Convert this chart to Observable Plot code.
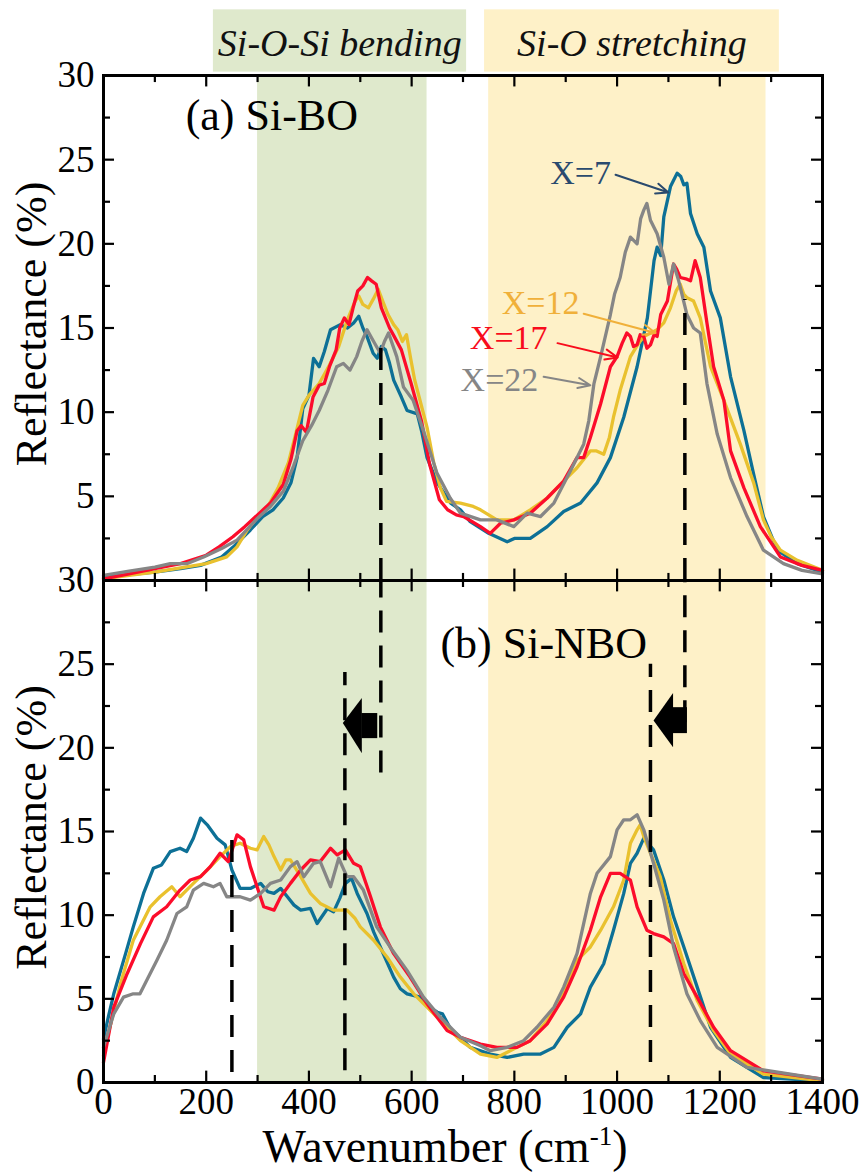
<!DOCTYPE html>
<html><head><meta charset="utf-8">
<script src="https://cdn.jsdelivr.net/npm/d3@7"></script>
<script src="https://cdn.jsdelivr.net/npm/@observablehq/plot@0.6"></script>
<style>
body{margin:0;background:#fff;}
#chart{position:relative;width:864px;height:1172px;background:#fff;}
#chart svg{position:absolute;left:0;overflow:visible;background:transparent !important;font-family:"Liberation Serif",serif !important;}
#chart svg text{font-family:"Liberation Serif",serif !important;}
</style></head><body><div id="chart"></div>
<script>
// ---------- data (wavenumber cm^-1, reflectance %) ----------
const seriesNames = ["X=7", "X=12", "X=17", "X=22"];
const seriesColors = ["#0d7096", "#e9c12e", "#fc0c2b", "#868686"];
const labelColors = ["#2a4a6e", "#f0b03a", "#f80c1c", "#868686"];

// panel (a) Si-BO
const a7 = [[0,0.2],[50,0.35],[100,0.5],[150,0.7],[189,0.9],[230,1.4],[253,2.0],[286,3.0],[310,3.8],[330,4.2],[350,4.9],[365,5.8],[377,7.3],[388,10.2],[400,11.0],[409,13.2],[420,12.7],[430,13.6],[442,14.9],[461,15.2],[475,15.0],[487,15.3],[497,15.7],[505,15.0],[513,14.5],[525,13.5],[533,13.2],[541,13.9],[549,13.7],[557,12.9],[565,11.9],[580,10.9],[591,10.1],[611,9.9],[620,8.8],[630,7.3],[650,5.8],[676,4.6],[695,4.2],[714,3.5],[750,2.8],[786,2.3],[800,2.5],[831,2.5],[864,3.2],[896,4.1],[929,4.6],[961,5.8],[987,7.3],[1013,9.7],[1039,12.7],[1059,15.6],[1072,19.0],[1078,19.8],[1085,19.3],[1091,21.6],[1104,23.4],[1117,24.2],[1124,24.0],[1130,23.5],[1136,23.6],[1143,21.8],[1156,20.6],[1169,19.8],[1182,17.2],[1201,15.6],[1221,12.1],[1247,8.9],[1266,6.3],[1285,3.8],[1312,1.8],[1351,1.0],[1400,0.5]];
const a12 = [[0,0.1],[50,0.3],[100,0.5],[150,0.75],[200,1.0],[240,1.4],[260,2.0],[280,3.0],[300,3.8],[320,4.4],[340,5.5],[360,7.0],[375,8.8],[388,10.4],[400,11.0],[420,11.7],[440,12.8],[458,13.9],[475,15.5],[490,16.6],[497,16.9],[505,16.4],[516,16.2],[525,16.7],[535,17.3],[545,16.5],[554,15.8],[565,15.2],[573,14.9],[582,14.2],[590,14.6],[598,13.2],[606,11.9],[618,10.5],[630,9.1],[643,7.0],[656,5.5],[668,4.7],[695,4.6],[720,4.4],[734,4.2],[750,3.9],[766,3.6],[799,3.6],[831,4.2],[864,4.9],[896,5.9],[922,6.7],[948,7.7],[960,7.7],[974,7.5],[985,8.5],[993,9.7],[1006,11.3],[1026,13.3],[1040,14.0],[1052,14.5],[1078,14.9],[1091,15.3],[1104,16.2],[1115,17.2],[1123,17.6],[1130,17.0],[1136,16.8],[1149,16.6],[1162,15.6],[1182,12.7],[1208,10.7],[1240,8.1],[1266,5.8],[1285,3.6],[1300,2.6],[1318,1.8],[1351,1.2],[1400,0.6]];
const a17 = [[0,0.1],[50,0.4],[100,0.7],[150,1.0],[200,1.5],[225,2.0],[252,2.6],[275,3.2],[300,3.9],[325,4.6],[350,5.7],[365,7.2],[377,8.9],[385,9.2],[395,8.8],[408,10.9],[420,11.6],[430,11.7],[440,12.7],[453,13.7],[460,15.0],[469,15.6],[478,15.2],[486,16.2],[495,17.2],[505,17.5],[514,18.0],[522,17.8],[531,17.6],[541,16.2],[557,15.0],[566,14.5],[580,13.7],[599,11.7],[619,9.5],[635,6.9],[654,4.8],[670,4.2],[687,3.9],[701,3.8],[734,3.2],[753,2.8],[773,3.4],[799,3.6],[831,4.0],[864,4.9],[896,5.9],[922,7.3],[935,7.3],[948,8.5],[968,10.5],[987,12.7],[1000,13.3],[1010,14.1],[1019,14.7],[1026,14.5],[1032,13.9],[1039,14.0],[1045,14.6],[1052,14.5],[1058,13.8],[1065,14.0],[1072,14.6],[1078,14.5],[1085,15.8],[1098,16.6],[1110,18.8],[1116,18.5],[1123,18.0],[1136,17.9],[1143,17.8],[1152,19.0],[1162,18.0],[1175,15.3],[1188,12.7],[1208,10.7],[1221,7.7],[1247,5.5],[1279,3.2],[1318,1.4],[1360,0.9],[1400,0.6]];
const a22 = [[0,0.3],[50,0.55],[100,0.8],[130,1.0],[162,1.0],[195,1.4],[230,1.9],[260,2.4],[300,3.7],[325,4.4],[350,5.3],[370,6.8],[388,8.3],[405,9.2],[420,10.1],[437,11.3],[454,12.7],[467,12.9],[480,12.5],[493,13.3],[503,14.2],[513,14.9],[526,14.2],[539,13.5],[547,14.2],[555,14.7],[563,14.0],[571,13.3],[584,11.5],[603,10.7],[623,8.9],[649,6.4],[675,4.9],[695,4.0],[734,3.6],[766,3.6],[799,3.2],[825,4.0],[851,3.8],[877,4.6],[909,6.5],[935,8.1],[945,9.5],[955,11.7],[968,13.3],[987,15.8],[995,17.0],[1006,18.0],[1016,19.5],[1026,20.4],[1039,20.0],[1046,21.5],[1052,22.0],[1058,22.4],[1065,21.4],[1078,20.6],[1091,19.2],[1101,17.6],[1110,18.8],[1120,17.8],[1136,15.8],[1149,15.0],[1162,14.7],[1175,11.7],[1195,8.7],[1221,6.1],[1253,3.8],[1285,1.8],[1324,1.0],[1360,0.6],[1400,0.4]];

// panel (b) Si-NBO
const b7 = [[0,2.6],[10,4.0],[20,5.3],[43,7.7],[58,9.3],[78,11.3],[97,12.8],[113,13.0],[130,13.8],[149,14.0],[162,13.8],[175,14.6],[189,15.8],[202,15.4],[221,14.6],[237,14.2],[250,12.7],[266,11.6],[286,11.6],[306,11.9],[320,11.4],[332,11.3],[345,11.6],[358,11.1],[371,10.6],[384,10.3],[403,10.4],[416,9.5],[436,10.4],[448,10.2],[460,11.0],[471,11.9],[483,12.2],[494,11.3],[513,10.1],[526,9.0],[539,8.1],[552,7.2],[565,6.3],[578,5.6],[591,5.3],[617,5.1],[630,4.6],[650,4.2],[660,4.1],[676,3.2],[695,2.7],[714,2.1],[753,1.7],[786,1.5],[818,1.7],[851,1.7],[877,2.1],[903,3.3],[929,4.1],[948,5.7],[974,7.1],[993,9.1],[1013,11.3],[1026,13.1],[1039,13.7],[1052,14.6],[1060,14.3],[1071,13.9],[1091,12.1],[1110,9.9],[1130,8.1],[1156,5.7],[1182,3.3],[1221,1.5],[1285,0.3],[1400,0.1]];
const b12 = [[0,1.6],[10,3.0],[33,5.9],[58,8.5],[91,10.5],[110,11.1],[133,11.7],[149,11.1],[175,11.9],[202,12.7],[227,13.5],[247,14.1],[266,14.3],[286,14.0],[299,13.9],[312,14.7],[322,14.2],[332,13.5],[345,12.7],[355,13.3],[364,13.3],[384,12.3],[403,11.3],[422,10.7],[448,10.3],[474,10.3],[490,9.8],[500,9.3],[526,8.5],[552,7.5],[578,6.3],[604,5.3],[630,4.5],[656,3.7],[695,2.5],[734,1.7],[766,1.5],[805,2.1],[831,2.5],[864,3.7],[896,5.3],[922,7.3],[948,8.1],[968,9.1],[993,10.5],[1013,12.1],[1026,14.3],[1039,15.1],[1045,15.4],[1052,14.7],[1065,13.7],[1084,12.3],[1104,9.7],[1130,7.1],[1156,4.9],[1188,3.1],[1221,1.7],[1285,0.5],[1400,0.1]];
const b17 = [[0,1.2],[20,4.5],[46,6.5],[72,8.3],[97,9.9],[123,10.5],[149,11.5],[169,12.1],[189,12.3],[208,12.9],[227,13.7],[243,13.2],[260,14.8],[273,14.5],[286,12.9],[299,11.7],[312,10.5],[332,10.3],[345,11.1],[364,11.9],[384,12.7],[403,13.3],[422,13.2],[442,14.0],[455,13.6],[471,13.9],[487,13.1],[500,12.9],[520,11.1],[539,9.3],[565,7.7],[597,6.3],[630,4.7],[669,3.1],[695,2.7],[714,2.5],[734,2.3],[766,2.1],[805,2.1],[831,2.5],[864,3.5],[896,5.1],[922,6.9],[948,9.1],[968,11.1],[987,12.5],[1006,12.5],[1026,12.1],[1039,10.5],[1058,9.1],[1071,8.9],[1091,8.7],[1110,8.3],[1130,6.5],[1156,5.1],[1188,3.3],[1221,1.9],[1285,0.7],[1400,0.2]];
const b22 = [[0,2.1],[20,4.1],[39,5.1],[58,5.3],[71,5.3],[84,6.1],[104,7.3],[123,8.5],[143,10.1],[162,10.5],[175,11.5],[195,11.9],[214,11.7],[227,11.9],[240,11.1],[266,11.1],[286,10.9],[306,11.3],[325,11.9],[345,12.1],[364,12.9],[377,13.2],[390,12.3],[409,13.1],[422,13.2],[442,11.7],[458,13.4],[474,12.3],[487,12.3],[506,11.5],[532,9.3],[558,8.1],[591,6.7],[623,5.1],[656,3.9],[695,2.7],[734,2.2],[753,1.9],[786,2.1],[818,2.5],[844,3.3],[877,4.5],[896,5.7],[922,7.7],[948,11.3],[961,12.5],[987,13.5],[1000,15.1],[1013,15.7],[1026,15.7],[1039,16.0],[1052,15.1],[1071,13.1],[1091,10.9],[1110,8.1],[1136,5.3],[1162,3.7],[1195,2.1],[1253,0.9],[1400,0.2]];

// ticks
const xMajor = [0,200,400,600,800,1000,1200,1400];
const xMinor = [100,300,500,700,900,1100,1300];
const yMajor = [0,5,10,15,20,25,30];
const yMinor = [2.5,7.5,12.5,17.5,22.5,27.5];
const yLabelsA = [5,10,15,20,25,30];
const yLabelsB = [0,5,10,15,20,25,30];

// shaded bands and header boxes
const bands = [{x1:300, x2:630, fill:"#dfe9cc"}, {x1:750, x2:1290, fill:"#fef1c8"}];
const headers = [{x1:214, x2:707, fill:"#dfe9cc", text:"Si-O-Si bending", xc:460}, {x1:742, x2:1316, fill:"#fef1c8", text:"Si-O stretching", xc:1029}];

// dashed guide lines
const dashA = [{x:540, y1:0, y2:13.8}, {x:1132, y1:0, y2:16.7}];
const dashB = [{x:540, y1:18.5, y2:30}, {x:1132, y1:21.5, y2:30}, {x:250, y1:0.6, y2:15.1}, {x:470, y1:0.7, y2:24.5}, {x:1065, y1:1.2, y2:25.0}];

// series label annotations in panel (a)
const seriesLabels = [
  {t:"X=7", x:929, y:24.2, x1:997, y1:24.1, x2:1100, y2:23.05},
  {t:"X=12", x:851, y:16.5, x1:935, y1:15.85, x2:1075, y2:14.7},
  {t:"X=17", x:789, y:14.4, x1:884, y1:14.1, x2:1001, y2:13.25},
  {t:"X=22", x:771, y:11.9, x1:857, y1:12.1, x2:948, y2:11.6}
];

// block arrows in panel (b)
const arrowHeads = [
  [{x:467, lo:21.45, hi:21.45}, {x:504, lo:19.65, hi:22.95}],
  [{x:1072, lo:21.6, hi:21.6}, {x:1110, lo:20.0, hi:23.25}]
];
const arrowBodies = [{x1:503, x2:534, y1:20.55, y2:22.05}, {x1:1109, x2:1137, y1:20.85, y2:22.4}];

const FONT = "Liberation Serif";
const W = 864, ML = 103, MR = 42;
const TICKFONT = 37;

function toRows(arr, name, i) { return arr.map(([x, y]) => ({x, y, s: name, i})); }

function tickMarks() {
  const ux = 1400 / (W - ML - MR); // data units per px
  return [
    Plot.ruleX(xMajor, {x: d => d, y1: 0, y2: 0.68, stroke: "black", strokeWidth: 2.2}),
    Plot.ruleX(xMinor, {x: d => d, y1: 0, y2: 0.42, stroke: "black", strokeWidth: 2.2}),
    Plot.ruleX(xMajor, {x: d => d, y1: 30, y2: 29.32, stroke: "black", strokeWidth: 2.2}),
    Plot.ruleX(xMinor, {x: d => d, y1: 30, y2: 29.58, stroke: "black", strokeWidth: 2.2}),
    Plot.ruleY(yMajor, {y: d => d, x1: 0, x2: 11 * ux, stroke: "black", strokeWidth: 2.2}),
    Plot.ruleY(yMinor, {y: d => d, x1: 0, x2: 7 * ux, stroke: "black", strokeWidth: 2.2}),
    Plot.ruleY(yMajor, {y: d => d, x1: 1400, x2: 1400 - 11 * ux, stroke: "black", strokeWidth: 2.2}),
    Plot.ruleY(yMinor, {y: d => d, x1: 1400, x2: 1400 - 7 * ux, stroke: "black", strokeWidth: 2.2})
  ];
}

function curves(list) {
  return list.map((arr, i) => Plot.line(toRows(arr, seriesNames[i], i), {x: "x", y: "y", stroke: seriesColors[i], strokeWidth: 3.3, strokeLinejoin: "round"}));
}

function yTitle() {
  return Plot.text(["Reflectance (%)"], {frameAnchor: "left", dx: -72, dy: -4, rotate: -90, fontSize: 44, fontFamily: FONT, fill: "black", textAnchor: "middle", lineAnchor: "middle"});
}

const chart = document.getElementById("chart");

// ---------- panel (a) ----------
const plotA = Plot.plot({
  width: W, height: 580, marginLeft: ML, marginRight: MR, marginTop: 75, marginBottom: 0,
  style: {fontFamily: FONT, fontSize: "36px", color: "black", background: "transparent", overflow: "visible"},
  x: {domain: [0, 1400], axis: null},
  y: {domain: [0, 30], axis: null},
  marks: [
    Plot.rect(bands, {x1: "x1", x2: "x2", y1: 0, y2: 30, fill: "fill"}),
    Plot.rect(headers, {x1: "x1", x2: "x2", y1: 30.2, y2: 33.9, fill: "fill"}),
    Plot.text(headers, {x: "xc", y: 31.9, text: "text", fontSize: 38, fontStyle: "italic", fontFamily: FONT, fill: "#111", textAnchor: "middle", lineAnchor: "middle"}),
    ...curves([a7, a12, a17, a22]),
    Plot.ruleX(dashA, {x: "x", y1: "y1", y2: "y2", stroke: "black", strokeWidth: 3.5, strokeDasharray: "22,13"}),
    Plot.arrow(seriesLabels, {x1: "x1", y1: "y1", x2: "x2", y2: "y2", stroke: (d, i) => labelColors[i], strokeWidth: 2, headLength: 10, headAngle: 45}),
    Plot.text(seriesLabels, {x: "x", y: "y", text: "t", fill: (d, i) => labelColors[i], fontSize: 34, fontFamily: FONT, textAnchor: "middle", lineAnchor: "middle"}),
    Plot.text(["(a) Si-BO"], {x: 160, y: 27.6, fontSize: 44, fontFamily: FONT, fill: "black", textAnchor: "start", lineAnchor: "middle"}),
    ...tickMarks(),
    Plot.frame({stroke: "black", strokeWidth: 3}),
    Plot.axisY({ticks: yLabelsA, tickSize: 0, tickPadding: 9, fontSize: TICKFONT, fontFamily: FONT, label: null, tickFormat: d => String(d)}),
    yTitle()
  ]
});
plotA.style.top = "0px";
chart.appendChild(plotA);

// ---------- panel (b) ----------
const plotB = Plot.plot({
  width: W, height: 592, marginLeft: ML, marginRight: MR, marginTop: 0, marginBottom: 90,
  style: {fontFamily: FONT, fontSize: "36px", color: "black", background: "transparent", overflow: "visible"},
  x: {domain: [0, 1400]},
  y: {domain: [0, 30]},
  marks: [
    Plot.rect(bands, {x1: "x1", x2: "x2", y1: 0, y2: 30, fill: "fill"}),
    ...curves([b7, b12, b17, b22]),
    Plot.ruleX(dashB, {x: "x", y1: "y1", y2: "y2", stroke: "black", strokeWidth: 3.5, strokeDasharray: "22,13"}),
    ...arrowHeads.map(h => Plot.areaY(h, {x: "x", y1: "lo", y2: "hi", fill: "black"})),
    Plot.rect(arrowBodies, {x1: "x1", x2: "x2", y1: "y1", y2: "y2", fill: "black"}),
    Plot.text(["(b) Si-NBO"], {x: 656, y: 26.2, fontSize: 44, fontFamily: FONT, fill: "black", textAnchor: "start", lineAnchor: "middle"}),
    ...tickMarks(),
    Plot.frame({stroke: "black", strokeWidth: 3}),
    Plot.axisY({ticks: yLabelsB, tickSize: 0, tickPadding: 9, fontSize: TICKFONT, fontFamily: FONT, label: null, tickFormat: d => String(d)}),
    Plot.axisX({ticks: xMajor, tickSize: 0, tickPadding: 5, fontSize: TICKFONT, fontFamily: FONT, label: null, tickFormat: d => String(d)}),
    yTitle()
  ]
});
plotB.style.top = "580px";
chart.appendChild(plotB);

// x axis title with superscript
const xt = d3.select(plotB).append("text")
  .attr("x", 445).attr("y", 582)
  .attr("text-anchor", "middle")
  .attr("font-family", FONT).attr("font-size", 46).attr("fill", "black");
xt.append("tspan").text("Wavenumber (cm");
xt.append("tspan").attr("dy", -17).attr("font-size", 27).text("-1");
xt.append("tspan").attr("dy", 17).text(")");
</script></body></html>
